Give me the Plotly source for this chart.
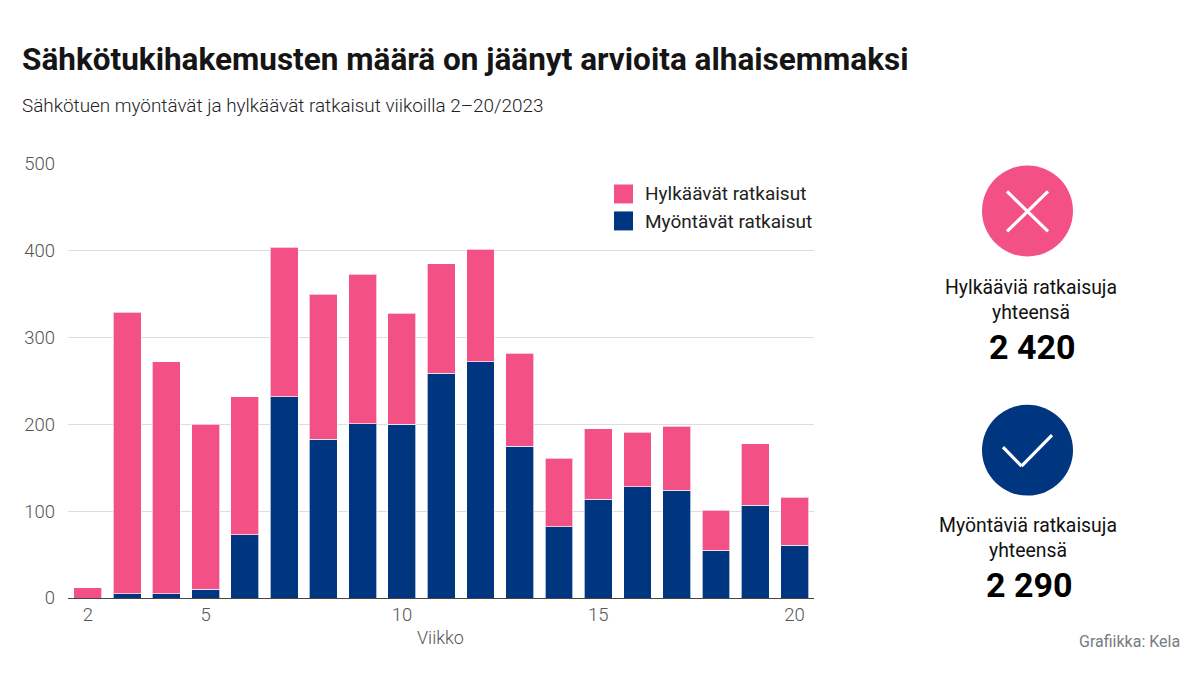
import plotly.graph_objects as go

weeks = list(range(2, 21))
myontavat = [0, 5, 5, 10, 73, 232, 183, 201, 200, 259, 272, 175, 82, 114, 128, 124, 55, 107, 61]
hylkaavat = [12, 324, 267, 190, 159, 172, 167, 172, 128, 126, 130, 107, 79, 81, 63, 74, 46, 71, 55]
x_ticks = [2, 5, 10, 15, 20]
y_ticks = [0, 100, 200, 300, 400, 500]

PINK = "#f35186"
BLUE = "#003580"
W, H = 1200, 675
L, R, T, B = 68, 814, 163.5, 598
FONT = "Roboto"

def px(x):
    return (x - L) / (R - L)

def py(y):
    return (B - y) / (B - T)

fig = go.Figure()
edge = dict(color="rgba(255,255,255,0.65)", width=1)
fig.add_bar(x=weeks, y=myontavat, name="Myöntävät ratkaisut", marker=dict(color=BLUE, line=edge))
fig.add_bar(x=weeks, y=hylkaavat, name="Hylkäävät ratkaisut", marker=dict(color=PINK, line=edge))

shapes = []
def rect(x0, y0, x1, y1, c):
    shapes.append(dict(type="rect", xref="paper", yref="paper", x0=px(x0), x1=px(x1), y0=py(y0), y1=py(y1),
                       fillcolor=c, line=dict(width=0)))
def circle(cx, cy, r, c):
    shapes.append(dict(type="circle", xref="paper", yref="paper", x0=px(cx - r), x1=px(cx + r), y0=py(cy - r), y1=py(cy + r),
                       fillcolor=c, line=dict(width=0)))
def seg(x0, y0, x1, y1):
    shapes.append(dict(type="line", xref="paper", yref="paper", x0=px(x0), x1=px(x1), y0=py(y0), y1=py(y1),
                       line=dict(color="white", width=3.2)))

rect(614, 184, 633, 203, PINK)
rect(614, 211, 633, 230, BLUE)
circle(1027.5, 210.5, 45.5, PINK)
seg(1007, 191, 1048, 231)
seg(1048, 191, 1007, 231)
circle(1027.5, 450, 45.5, BLUE)
seg(1003, 447, 1021.5, 466)
seg(1021.5, 466, 1052, 435)

anns = []
def text(x, y, s, size, color="#111111", anchor="left", weight=400):
    anns.append(dict(xref="paper", yref="paper", x=px(x), y=py(y), text=s, showarrow=False, xanchor=anchor,
                     yanchor="middle", font=dict(family=FONT, size=size, color=color, weight=weight)))

text(20, 58.5, "Sähkötukihakemusten määrä on jäänyt arvioita alhaisemmaksi", 31.5, "#151515", weight=700)
text(20, 104.5, "Sähkötuen myöntävät ja hylkäävät ratkaisut viikoilla 2–20/2023", 18.9, "#222222", weight=300)
text(643, 193, "Hylkäävät ratkaisut", 19, "#222222")
text(643, 221, "Myöntävät ratkaisut", 19, "#222222")
text(1031, 287, "Hylkääviä ratkaisuja", 19.4, "#111111", "center")
text(1031, 312, "yhteensä", 19.4, "#111111", "center")
text(1031.5, 347, "2 420", 34, "#000000", "center", 700)
text(1028, 525, "Myöntäviä ratkaisuja", 19.4, "#111111", "center")
text(1028, 550, "yhteensä", 19.4, "#111111", "center")
text(1029, 585, "2 290", 34, "#000000", "center", 700)
text(1181.5, 642, "Grafiikka: Kela", 16, "#777b80", "right")
text(440, 638, "Viikko", 18, "#555555", "center", 300)

fig.update_layout(
    width=W, height=H, autosize=False,
    paper_bgcolor="white", plot_bgcolor="white",
    margin=dict(l=L, r=W - R, t=T, b=H - B, pad=0),
    barmode="stack", bargap=0.29, showlegend=False,
    font=dict(family=FONT, color="#555555", size=18, weight=300),
    shapes=shapes, annotations=anns,
    xaxis=dict(range=[1.495, 20.495], tickmode="array", tickvals=x_ticks, ticks="", showgrid=False,
               showline=True, linecolor="#444444", linewidth=1, layer="below traces",
               tickfont=dict(family=FONT, size=18.5, color="#555555", weight=300), zeroline=False),
    yaxis=dict(range=[0, 500], tickmode="array", tickvals=y_ticks, ticks="", showgrid=True, gridcolor="#dddddd", gridwidth=1,
               zeroline=False, showline=False, layer="below traces", ticklabelstandoff=12,
               tickfont=dict(family=FONT, size=18.5, color="#555555", weight=300)),
)

fig.write_html("out.html", post_script="document.body.style.margin='0';document.body.style.overflow='hidden';",
               config={"displayModeBar": False})
